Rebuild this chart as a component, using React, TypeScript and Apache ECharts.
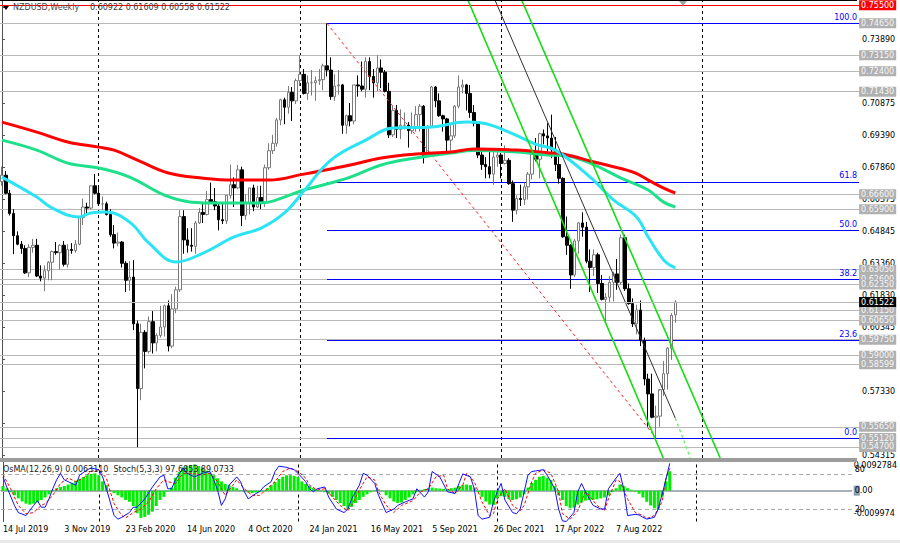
import React, { useEffect, useRef } from "react";
import * as echarts from "echarts";

const FONT = "DejaVu Sans";
const N_SLOTS = 222;
const X_MIN = -0.5;
const X_MAX = N_SLOTS - 0.5;
const PRICE_MIN = 0.5418;
const PRICE_MAX = 0.7575;
const OSMA_MIN = -0.009974;
const OSMA_MAX = 0.0092784;

const FIRST_WEEK_UTC = Date.UTC(2019, 6, 14);
const MONTHS = ["Jan", "Feb", "Mar", "Apr", "May", "Jun", "Jul", "Aug", "Sep", "Oct", "Nov", "Dec"];
const TICK_EVERY = 16;
const LAST_TICK = 160;
const YEAR_SEPARATORS = [25, 77, 129, 181];

const SYMBOL_TITLE = "NZDUSD,Weekly";
const LAST_OHLC = "0.60922 0.61609 0.60558 0.61522";
const IND_TITLE = "OsMA(12,26,9) 0.0063110  Stoch(5,3,3) 97.6853 89.0733";

// weekly candles [open, high, low, close]
const CANDLES_2019 = [
  [0.6720, 0.6790, 0.6700, 0.6750], [0.6750, 0.6770, 0.6660, 0.6665], [0.6665, 0.6680, 0.6560, 0.6570],
  [0.6570, 0.6590, 0.6378, 0.6465], [0.6465, 0.6485, 0.6420, 0.6425], [0.6425, 0.6440, 0.6380, 0.6405],
  [0.6405, 0.6420, 0.6285, 0.6290], [0.6290, 0.6425, 0.6270, 0.6410], [0.6410, 0.6450, 0.6385, 0.6420],
  [0.6420, 0.6450, 0.6270, 0.6275], [0.6275, 0.6325, 0.6250, 0.6265], [0.6265, 0.6325, 0.6204, 0.6300],
  [0.6300, 0.6345, 0.6255, 0.6340], [0.6340, 0.6395, 0.6255, 0.6390], [0.6390, 0.6435, 0.6375, 0.6385],
  [0.6385, 0.6425, 0.6305, 0.6420], [0.6420, 0.6440, 0.6320, 0.6330], [0.6330, 0.6425, 0.6315, 0.6400],
  [0.6400, 0.6430, 0.6380, 0.6395], [0.6395, 0.6445, 0.6385, 0.6425], [0.6425, 0.6555, 0.6420, 0.6550],
  [0.6550, 0.6640, 0.6515, 0.6600], [0.6600, 0.6620, 0.6560, 0.6595], [0.6595, 0.6700, 0.6590, 0.6700],
  [0.6700, 0.6756, 0.6660, 0.6665],
];
const CANDLES_2020 = [
  [0.6665, 0.6700, 0.6605, 0.6615], [0.6615, 0.6650, 0.6585, 0.6615], [0.6615, 0.6625, 0.6560, 0.6565],
  [0.6565, 0.6590, 0.6460, 0.6470], [0.6470, 0.6515, 0.6405, 0.6430], [0.6430, 0.6480, 0.6415, 0.6435],
  [0.6435, 0.6440, 0.6315, 0.6335], [0.6335, 0.6345, 0.6200, 0.6255], [0.6255, 0.6345, 0.6205, 0.6270],
  [0.6270, 0.6350, 0.6020, 0.6050], [0.6050, 0.6065, 0.5469, 0.5745], [0.5745, 0.6050, 0.5690, 0.6010],
  [0.6010, 0.6020, 0.5840, 0.5920], [0.5920, 0.6085, 0.5910, 0.6060], [0.6060, 0.6110, 0.5910, 0.5960],
  [0.5960, 0.6005, 0.5920, 0.5995], [0.5995, 0.6135, 0.5985, 0.6035], [0.6035, 0.6140, 0.5990, 0.6135],
  [0.6135, 0.6160, 0.5920, 0.5945], [0.5945, 0.6190, 0.5935, 0.6120], [0.6120, 0.6225, 0.6100, 0.6210],
  [0.6210, 0.6585, 0.6200, 0.6555], [0.6555, 0.6585, 0.6380, 0.6445], [0.6445, 0.6500, 0.6385, 0.6420],
  [0.6420, 0.6500, 0.6390, 0.6415], [0.6415, 0.6535, 0.6380, 0.6525], [0.6525, 0.6595, 0.6520, 0.6575],
  [0.6575, 0.6620, 0.6525, 0.6565], [0.6565, 0.6675, 0.6560, 0.6635], [0.6635, 0.6715, 0.6620, 0.6625],
  [0.6625, 0.6690, 0.6585, 0.6605], [0.6605, 0.6620, 0.6490, 0.6540], [0.6540, 0.6620, 0.6520, 0.6535],
  [0.6535, 0.6655, 0.6520, 0.6655], [0.6655, 0.6800, 0.6640, 0.6705], [0.6705, 0.6740, 0.6600, 0.6690],
  [0.6690, 0.6798, 0.6685, 0.6775], [0.6775, 0.6790, 0.6510, 0.6560], [0.6560, 0.6660, 0.6540, 0.6620],
  [0.6620, 0.6690, 0.6565, 0.6690], [0.6690, 0.6705, 0.6580, 0.6600], [0.6600, 0.6700, 0.6595, 0.6645],
  [0.6645, 0.6700, 0.6590, 0.6620], [0.6620, 0.6800, 0.6600, 0.6785], [0.6785, 0.6900, 0.6775, 0.6865],
  [0.6865, 0.6940, 0.6850, 0.6900], [0.6900, 0.7020, 0.6885, 0.7010], [0.7010, 0.7110, 0.6985, 0.7105],
  [0.7105, 0.7115, 0.6990, 0.7070], [0.7070, 0.7170, 0.7040, 0.7140], [0.7140, 0.7165, 0.7005, 0.7100],
  [0.7100, 0.7205, 0.7085, 0.7195],
];
const CANDLES_2021 = [
  [0.7195, 0.7315, 0.7170, 0.7225], [0.7225, 0.7250, 0.7130, 0.7135], [0.7135, 0.7220, 0.7105, 0.7185],
  [0.7185, 0.7245, 0.7125, 0.7185], [0.7185, 0.7215, 0.7100, 0.7195], [0.7195, 0.7250, 0.7175, 0.7200],
  [0.7200, 0.7275, 0.7150, 0.7265], [0.7265, 0.7465, 0.7215, 0.7245], [0.7245, 0.7305, 0.7105, 0.7120],
  [0.7120, 0.7225, 0.7100, 0.7170], [0.7170, 0.7245, 0.7130, 0.7175], [0.7175, 0.7180, 0.6945, 0.6985],
  [0.6985, 0.7035, 0.6945, 0.7030], [0.7030, 0.7090, 0.6980, 0.7005], [0.7005, 0.7175, 0.6990, 0.7175],
  [0.7175, 0.7220, 0.7120, 0.7170], [0.7170, 0.7285, 0.7145, 0.7155], [0.7155, 0.7305, 0.7115, 0.7285],
  [0.7285, 0.7305, 0.7150, 0.7215], [0.7215, 0.7250, 0.7115, 0.7185], [0.7185, 0.7315, 0.7145, 0.7255],
  [0.7255, 0.7295, 0.7160, 0.7235], [0.7235, 0.7245, 0.7140, 0.7145], [0.7145, 0.7185, 0.6925, 0.6940],
  [0.6940, 0.7080, 0.6930, 0.7055], [0.7055, 0.7080, 0.6925, 0.6965], [0.6965, 0.7060, 0.6920, 0.6985],
  [0.6985, 0.7045, 0.6965, 0.6985], [0.6985, 0.7000, 0.6880, 0.6960], [0.6960, 0.7045, 0.6945, 0.6970],
  [0.6970, 0.7075, 0.6955, 0.7035], [0.7035, 0.7085, 0.6955, 0.7075], [0.7075, 0.7080, 0.6805, 0.6840],
  [0.6840, 0.6985, 0.6835, 0.6980], [0.6980, 0.7170, 0.6975, 0.7165], [0.7165, 0.7170, 0.7070, 0.7100],
  [0.7100, 0.7135, 0.7025, 0.7030], [0.7030, 0.7035, 0.6955, 0.7015], [0.7015, 0.7020, 0.6860, 0.6915],
  [0.6915, 0.6985, 0.6865, 0.6935], [0.6935, 0.7080, 0.6925, 0.7075], [0.7075, 0.7220, 0.7065, 0.7165],
  [0.7165, 0.7200, 0.7135, 0.7175], [0.7175, 0.7180, 0.7055, 0.7135], [0.7135, 0.7175, 0.7020, 0.7045],
  [0.7045, 0.7080, 0.6980, 0.6995], [0.6995, 0.7000, 0.6830, 0.6845], [0.6845, 0.6870, 0.6775, 0.6800],
  [0.6800, 0.6835, 0.6735, 0.6790], [0.6790, 0.6860, 0.6735, 0.6755], [0.6755, 0.6860, 0.6705, 0.6835],
  [0.6835, 0.6860, 0.6790, 0.6845],
];
const CANDLES_2022 = [
  [0.6845, 0.6855, 0.6735, 0.6805], [0.6805, 0.6890, 0.6800, 0.6820], [0.6820, 0.6830, 0.6705, 0.6710],
  [0.6710, 0.6725, 0.6530, 0.6585], [0.6585, 0.6655, 0.6565, 0.6640], [0.6640, 0.6705, 0.6605, 0.6635],
  [0.6635, 0.6715, 0.6610, 0.6695], [0.6695, 0.6765, 0.6635, 0.6755], [0.6755, 0.6865, 0.6730, 0.6850],
  [0.6850, 0.6925, 0.6815, 0.6825], [0.6825, 0.6950, 0.6735, 0.6945], [0.6945, 0.6965, 0.6895, 0.6935],
  [0.6935, 0.6995, 0.6860, 0.6925], [0.6925, 0.7035, 0.6830, 0.6870], [0.6870, 0.6930, 0.6770, 0.6800],
  [0.6800, 0.6850, 0.6710, 0.6735], [0.6735, 0.6740, 0.6455, 0.6460], [0.6460, 0.6555, 0.6375, 0.6420],
  [0.6420, 0.6425, 0.6215, 0.6280], [0.6280, 0.6450, 0.6270, 0.6440], [0.6440, 0.6530, 0.6380, 0.6525],
  [0.6525, 0.6575, 0.6460, 0.6505], [0.6505, 0.6530, 0.6335, 0.6345], [0.6345, 0.6400, 0.6200, 0.6315],
  [0.6315, 0.6400, 0.6275, 0.6375], [0.6375, 0.6385, 0.6195, 0.6240], [0.6240, 0.6280, 0.6160, 0.6165],
  [0.6165, 0.6195, 0.6060, 0.6175], [0.6175, 0.6275, 0.6150, 0.6245], [0.6245, 0.6295, 0.6155, 0.6285],
  [0.6285, 0.6355, 0.6210, 0.6245], [0.6245, 0.6470, 0.6235, 0.6455], [0.6455, 0.6470, 0.6205, 0.6215],
  [0.6215, 0.6240, 0.6140, 0.6145], [0.6145, 0.6170, 0.6035, 0.6050], [0.6050, 0.6140, 0.6000, 0.6115],
  [0.6115, 0.6160, 0.5945, 0.5970], [0.5970, 0.5985, 0.5760, 0.5790], [0.5790, 0.5815, 0.5565, 0.5720],
  [0.5720, 0.5815, 0.5605, 0.5610], [0.5610, 0.5665, 0.5512, 0.5615], [0.5615, 0.5735, 0.5565, 0.5740],
  [0.5740, 0.5875, 0.5710, 0.5815], [0.5815, 0.5940, 0.5740, 0.5935], [0.5935, 0.6100, 0.5880, 0.6090],
  [0.60922, 0.61609, 0.60558, 0.61522],
];

// moving averages read at [bar index, price]
const MA_RED = [[0, 0.7000], [9, 0.6953], [17, 0.6906], [25, 0.6882], [29, 0.6868], [35, 0.6821], [43, 0.6760],
  [52, 0.6736], [60, 0.6727], [69, 0.6727], [78, 0.6755], [81, 0.6765], [90, 0.6798], [98, 0.6831], [107, 0.6850],
  [116, 0.6859], [122, 0.6873], [133, 0.6868], [141, 0.6856], [145, 0.6850], [153, 0.6812], [163, 0.6765],
  [167, 0.6727], [171, 0.6689], [174, 0.6666]];
const MA_GREEN = [[0, 0.6915], [9, 0.6868], [17, 0.6807], [25, 0.6784], [33, 0.6741], [42, 0.6656], [49, 0.6623],
  [56, 0.6619], [66, 0.6619], [69, 0.6623], [73, 0.6647], [78, 0.6680], [81, 0.6694], [90, 0.6741], [98, 0.6798],
  [107, 0.6831], [116, 0.6854], [122, 0.6866], [133, 0.6859], [141, 0.6845], [145, 0.6843], [152, 0.6807],
  [160, 0.6736], [167, 0.6680], [171, 0.6623], [174, 0.6600]];
const MA_CYAN = [[0, 0.6741], [9, 0.6647], [13, 0.6595], [20, 0.6553], [23, 0.6572], [27, 0.6576], [33, 0.6529],
  [38, 0.6430], [45, 0.6341], [52, 0.6383], [60, 0.6459], [67, 0.6501], [73, 0.6572], [78, 0.6675], [85, 0.6821],
  [94, 0.6915], [101, 0.6972], [111, 0.6977], [120, 0.7000], [124, 0.6996], [131, 0.6953], [138, 0.6895],
  [143, 0.6868], [152, 0.6741], [158, 0.6634], [164, 0.6553], [167, 0.6459], [171, 0.6351], [174, 0.6313]];

// drawn objects
const GRAY_LEVELS = [0.7465, 0.7315, 0.7240, 0.7143, 0.6660, 0.6590, 0.6305, 0.6260, 0.6235, 0.6115, 0.6065,
  0.5975, 0.5900, 0.58599, 0.5565, 0.5512, 0.5470];
const RED_LEVEL = 0.7550;
const BID = 0.61522;
const FIB_START = 84;
const FIB_LEVELS = [0.7465, 0.6719, 0.6489, 0.6258, 0.5973, 0.5512];
const FIB_NAMES = ["100.0", "61.8", "50.0", "38.2", "23.6", "0.0"];
const FIB_DIAG = [[84, 0.7465], [169, 0.5512]];
const CHANNEL_A = [[120.4, PRICE_MAX], [170.9, PRICE_MIN]];
const CHANNEL_B = [[134.3, PRICE_MAX], [185.6, PRICE_MIN]];
const CHANNEL_MID = [[127.4, PRICE_MAX], [174.0, 0.5606]];
const CHANNEL_MID_EXT = [[174.0, 0.5606], [177.9, PRICE_MIN]];

const PRICE_TICKS = [0.7542, 0.7389, 0.72405, 0.70875, 0.6939, 0.6786, 0.66375, 0.64845, 0.6336, 0.6183,
  0.60345, 0.58815, 0.5733, 0.558, 0.54315];
// tick labels that are not covered by the object labels
const PRICE_TICK_LABELS = [0.7389, 0.70875, 0.6939, 0.6786, 0.66375, 0.64845, 0.6336, 0.6183, 0.60345, 0.5733, 0.54315];

// OsMA histogram in units of 0.0001
const OSMA = [
  15, 8, -5, -15, -25, -35, -42, -45, -42, -38,
  -30, -22, -12, 3, 8, 12, 15, 20, 25, 32,
  38, 44, 50, 54, 56, 50, 30, 18, 2, -8,
  -15, -22, -30, -36, -50, -73, -88, -85, -78, -68,
  -50, -30, -20, -3, 10, 42, 60, 75, 80, 82,
  85, 80, 75, 65, 58, 50, 40, 30, 22, 18,
  12, 8, 2, -3, -6, -8, -6, -4, -2, 8,
  18, 28, 38, 45, 50, 50, 48, 45, 30, 22,
  15, 8, 3, -2, -5, -10, -20, -30, -40, -50,
  -58, -52, -40, -30, -20, -12, -5, 2, 4, -2,
  -15, -25, -35, -40, -38, -30, -22, -12, -5, 3,
  5, 8, 10, 8, 7, 6, 5, 8, 10, 15,
  18, 20, 18, 10, -5, -20, -35, -45, -46, -25,
  -18, -20, -28, -30, -28, -22, -12, 10, 25, 35,
  45, 48, 42, 35, 15, -15, -30, -50, -57, -55,
  -45, -38, -32, -30, -30, -28, -25, -22, -15, -5,
  8, 20, 15, 8, 3, -3, -10, -22, -36, -48,
  -57, -62, -20, 30, 63,
];

const STOCH_MAIN = [[0, 75], [1, 58], [3, 27], [4, 15], [6, 10], [8, 27], [9, 35], [10, 24], [11, 24], [12, 38],
  [13, 55], [14, 70], [15, 81], [16, 70], [17, 67], [19, 61], [20, 78], [22, 87], [23, 90], [25, 87], [26, 75],
  [27, 55], [29, 10], [30, 4], [31, 7], [33, 15], [34, 24], [35, 24], [37, 38], [39, 58], [41, 75], [42, 78],
  [43, 55], [44, 55], [45, 70], [47, 90], [48, 81], [50, 75], [51, 78], [52, 81], [54, 84], [55, 70], [56, 53],
  [57, 27], [58, 38], [59, 61], [61, 75], [62, 67], [63, 50], [64, 38], [66, 47], [67, 50], [68, 58], [70, 67],
  [71, 84], [72, 93], [74, 91], [76, 87], [77, 81], [79, 67], [80, 55], [81, 50], [82, 55], [84, 58], [85, 41],
  [87, 21], [89, 15], [90, 21], [91, 38], [93, 61], [94, 81], [95, 78], [97, 64], [98, 44], [100, 15], [102, 21],
  [103, 27], [105, 33], [107, 38], [108, 55], [110, 41], [111, 50], [112, 84], [114, 75], [116, 50], [118, 47],
  [119, 64], [120, 80], [122, 75], [123, 55], [124, 10], [125, 4], [127, 7], [128, 33], [129, 50], [130, 64],
  [131, 36], [133, 15], [134, 13], [135, 21], [137, 78], [138, 84], [139, 85], [141, 87], [142, 78], [144, 55],
  [145, 21], [146, 1], [147, 0], [149, 15], [150, 50], [151, 64], [152, 50], [154, 27], [156, 21], [157, 21],
  [158, 55], [160, 73], [161, 81], [162, 55], [163, 10], [165, 12], [166, 11], [167, 7], [168, 4], [170, 7],
  [171, 21], [173, 70], [174, 97.69]];
const STOCH_SIGNAL = [[0, 79], [2, 55], [4, 27], [6, 13], [8, 15], [10, 27], [11, 30], [13, 44], [15, 64], [17, 73],
  [19, 67], [21, 73], [23, 84], [25, 87], [27, 73], [28, 50], [29, 30], [31, 10], [32, 6], [34, 15], [36, 21],
  [38, 33], [40, 55], [42, 70], [43, 67], [45, 64], [47, 81], [49, 81], [52, 78], [54, 81], [56, 67], [58, 44],
  [60, 61], [61, 70], [63, 55], [65, 44], [67, 44], [69, 55], [71, 67], [73, 84], [75, 90], [77, 84], [79, 73],
  [80, 61], [82, 53], [84, 55], [86, 41], [88, 27], [90, 18], [91, 27], [93, 53], [95, 75], [97, 70], [98, 50],
  [100, 27], [102, 15], [104, 27], [107, 35], [109, 50], [111, 55], [113, 75], [115, 78], [116, 55], [118, 47],
  [120, 61], [121, 81], [123, 67], [125, 33], [127, 10], [128, 13], [129, 38], [131, 55], [133, 27], [135, 18],
  [136, 27], [138, 67], [139, 81], [141, 87], [143, 81], [145, 50], [146, 13], [148, 4], [150, 18], [152, 50],
  [153, 44], [155, 27], [157, 18], [158, 38], [160, 70], [161, 67], [163, 38], [165, 15], [167, 10], [168, 5],
  [170, 10], [172, 33], [173, 73], [174, 89.07]];
const STOCH_LEVELS = [80, 20];

const CANDLES = [...CANDLES_2019, ...CANDLES_2020, ...CANDLES_2021, ...CANDLES_2022];
const WEEKS = Array.from({ length: N_SLOTS }, (_, i) => {
  const d = new Date(FIRST_WEEK_UTC + i * 7 * 86400000);
  return `${d.getUTCDate()} ${MONTHS[d.getUTCMonth()]} ${d.getUTCFullYear()}`;
});

const txt = { fontFamily: FONT, fontSize: 8, color: "#000" };
const noSym = { symbol: ["none", "none"], silent: true, animation: false, precision: 5 };
const fmt5 = (p: any) => Number(p.value).toFixed(5);

function buildOption(): any {
  const GL = { left: -1.9, width: 861 };
  const lineSeries = (data: number[][], color: string, width: number, extra: any = {}) => ({
    type: "line", xAxisIndex: 1, yAxisIndex: 0, data, showSymbol: false, silent: true,
    lineStyle: { color, width, ...(extra.lineStyle || {}) }, z: extra.z ?? 4, smooth: extra.smooth ?? false,
  });
  const boxLabel = (bg: string, fg: string) => ({
    show: true, position: "end", distance: 0, formatter: fmt5,
    ...txt, color: fg, backgroundColor: bg, padding: [1, 2, 0, 2], lineHeight: 9,
  });
  return {
    animation: false,
    backgroundColor: "#ffffff",
    grid: [
      { ...GL, top: 0, height: 458 },
      { ...GL, top: 462, height: 59.5 },
    ],
    xAxis: [
      { gridIndex: 0, type: "category", data: WEEKS, boundaryGap: true, show: false },
      { gridIndex: 0, type: "value", min: X_MIN, max: X_MAX, show: false },
      {
        gridIndex: 1, type: "category", data: WEEKS, boundaryGap: true,
        axisLine: { show: true, lineStyle: { color: "#505050", width: 1 } },
        axisTick: { show: false }, splitLine: { show: false },
        axisLabel: { ...txt, align: "left", margin: 4, interval: (i: number) => i % TICK_EVERY === 0 && i <= LAST_TICK },
      },
      { gridIndex: 1, type: "value", min: X_MIN, max: X_MAX, show: false },
    ],
    yAxis: [
      {
        gridIndex: 0, type: "value", position: "right", offset: -2, min: PRICE_MIN, max: PRICE_MAX,
        splitLine: { show: false },
        axisLine: { show: true, lineStyle: { color: "#505050", width: 1 } },
        axisTick: { show: true, length: 3, customValues: PRICE_TICKS, lineStyle: { color: "#505050" } },
        axisLabel: { ...txt, margin: 5, customValues: PRICE_TICK_LABELS, formatter: (v: number) => v.toFixed(5) },
      },
      {
        gridIndex: 1, type: "value", position: "right", offset: -2, min: OSMA_MIN, max: OSMA_MAX,
        splitLine: { show: false },
        axisLine: { show: true, lineStyle: { color: "#505050", width: 1 } },
        axisTick: { show: false },
        axisLabel: {
          ...txt, margin: 4, customValues: [OSMA_MAX, 0, OSMA_MIN],
          formatter: (v: number) => (v > 0.005 ? "{t|0.0092784}" : v < -0.005 ? "{b|-0.009974}" : "{z|0}{n|.00}"),
          rich: {
            t: { ...txt, padding: [6, 0, 0, 0] },
            b: { ...txt, padding: [0, 0, 16, 0] },
            z: { ...txt, backgroundColor: "#8b9db3", padding: [1, 0, 1, 1] },
            n: { ...txt },
          },
        },
      },
      {
        gridIndex: 1, type: "value", position: "right", offset: -2, min: 0, max: 100,
        splitLine: { show: false }, axisLine: { show: false }, axisTick: { show: false },
        axisLabel: {
          ...txt, margin: 5, customValues: STOCH_LEVELS,
          formatter: (v: number) => (v > 50 ? "{u|" + v + "}" : "{d|" + v + "}"),
          rich: { u: { ...txt, padding: [0, 0, 8, 0] }, d: { ...txt } },
        },
      },
    ],
    series: [
      {
        type: "line", xAxisIndex: 1, yAxisIndex: 0, data: [], z: 1,
        markLine: { ...noSym, z: 1, label: { show: false }, lineStyle: { color: "#000", type: [3, 3], width: 1 },
          data: YEAR_SEPARATORS.map((x) => ({ xAxis: x })) },
      },
      {
        type: "line", xAxisIndex: 1, yAxisIndex: 0, data: [], z: 2,
        markLine: {
          ...noSym, z: 2,
          lineStyle: { color: "#b8b8b8", width: 1, type: "solid" },
          label: boxLabel("#b0b0b0", "#f6f6f6"),
          data: GRAY_LEVELS.map((v) => ({ yAxis: v })),
        },
      },
      {
        type: "line", xAxisIndex: 1, yAxisIndex: 0, data: [], z: 3,
        markLine: {
          ...noSym, z: 3,
          lineStyle: { color: "#0000ff", width: 1, type: "solid" },
          label: { show: true, position: "insideEndTop", distance: 2, formatter: "{b}", ...txt, color: "#0000ff" },
          data: FIB_LEVELS.map((v, i) => [{ coord: [FIB_START, v], name: FIB_NAMES[i] }, { coord: [X_MAX, v] }]),
        },
      },
      {
        type: "line", xAxisIndex: 1, yAxisIndex: 0, data: [], z: 3,
        markLine: {
          ...noSym, z: 3,
          lineStyle: { color: "#ff0000", width: 1, type: "solid" },
          label: boxLabel("#ff0000", "#ffffff"),
          data: [{ yAxis: RED_LEVEL }],
        },
      },
      {
        type: "candlestick", xAxisIndex: 0, yAxisIndex: 0, silent: true, z: 3, barWidth: 3,
        data: CANDLES.map(([o, h, l, c]) => [o, c, l, h]),
        itemStyle: { color: "#ffffff", color0: "#000000", borderColor: "#7a7a7a", borderColor0: "#000000", borderWidth: 1 },
      },
      lineSeries(FIB_DIAG, "#ff2020", 1, { lineStyle: { type: [3, 3] }, z: 4 }),
      lineSeries(MA_GREEN, "#1fe08a", 3, { smooth: 0.4, z: 5 }),
      lineSeries(MA_RED, "#ff0000", 3, { smooth: 0.4, z: 5 }),
      lineSeries(MA_CYAN, "#2ae4f4", 3, { smooth: 0.4, z: 5 }),
      lineSeries(CHANNEL_A, "#11dd11", 1.6, { z: 6 }),
      lineSeries(CHANNEL_B, "#11dd11", 1.6, { z: 6 }),
      lineSeries(CHANNEL_MID, "#303030", 1, { z: 6 }),
      lineSeries(CHANNEL_MID_EXT, "#66ee66", 1.3, { lineStyle: { type: [3, 3] }, z: 6 }),
      {
        type: "line", xAxisIndex: 1, yAxisIndex: 0, data: [], z: 7,
        markLine: {
          ...noSym, z: 7,
          lineStyle: { color: "#b8b8b8", width: 1, type: "solid" },
          label: boxLabel("#000000", "#ffffff"),
          data: [{ yAxis: BID }],
        },
      },
      {
        type: "line", xAxisIndex: 3, yAxisIndex: 2, data: [], z: 1,
        markLine: { ...noSym, z: 1, label: { show: false }, lineStyle: { color: "#000", type: [3, 3], width: 1 },
          data: YEAR_SEPARATORS.map((x) => ({ xAxis: x })) },
      },
      {
        type: "line", xAxisIndex: 3, yAxisIndex: 2, data: [], z: 1,
        markLine: { ...noSym, z: 1, label: { show: false }, lineStyle: { color: "#a8a8a8", type: [4, 3], width: 1 },
          data: STOCH_LEVELS.map((v) => ({ yAxis: v })) },
      },
      {
        type: "line", xAxisIndex: 3, yAxisIndex: 1, data: [], z: 1,
        markLine: { ...noSym, z: 1, label: { show: false }, lineStyle: { color: "#a9b0b8", type: "solid", width: 2 },
          data: [{ yAxis: 0 }] },
      },
      {
        type: "bar", xAxisIndex: 2, yAxisIndex: 1, silent: true, z: 2, barWidth: 3,
        data: OSMA.map((v) => v * 0.0001), itemStyle: { color: "#00ee00" },
      },
      {
        type: "line", xAxisIndex: 3, yAxisIndex: 2, data: STOCH_SIGNAL, showSymbol: false, silent: true, z: 3,
        lineStyle: { color: "#ff0000", width: 1, type: [3, 2] },
      },
      {
        type: "line", xAxisIndex: 3, yAxisIndex: 2, data: STOCH_MAIN, showSymbol: false, silent: true, z: 4,
        lineStyle: { color: "#1010ff", width: 1 },
      },
    ],
    graphic: [
      { type: "rect", shape: { x: 0, y: 0, width: 857, height: 1 }, style: { fill: "#000" }, z: 100, silent: true },
      { type: "rect", shape: { x: 0, y: 458, width: 857, height: 4 }, style: { fill: "#9c9c9c" }, z: 100, silent: true },
      { type: "rect", shape: { x: 0, y: 540, width: 900, height: 3 }, style: { fill: "#e8e8e8" }, z: 100, silent: true },
      { type: "polygon", shape: { points: [[3, 6], [9, 6], [6, 10]] }, style: { fill: "#000" }, z: 100, silent: true },
      { type: "polygon", shape: { points: [[679, 1], [687, 1], [683, 6]] }, style: { fill: "#a0a0a0" }, z: 100, silent: true },
      { type: "text", x: 13, y: 3, style: { text: SYMBOL_TITLE, fill: "#4a4a4a", font: `8px "${FONT}"` }, z: 100, silent: true },
      { type: "text", x: 90, y: 3, style: { text: LAST_OHLC, fill: "#3a3a3a", font: `8px "${FONT}"` }, z: 100, silent: true },
      { type: "text", x: 3, y: 465, style: { text: IND_TITLE, fill: "#202020", font: `8px "${FONT}"` }, z: 100, silent: true },
    ],
  };
}

export default function App() {
  const ref = useRef<HTMLDivElement>(null);
  useEffect(() => {
    if (!ref.current) return;
    const chart = echarts.init(ref.current, null, { renderer: "svg" });
    chart.setOption(buildOption());
    return () => chart.dispose();
  }, []);
  return (
    <div
      ref={ref}
      style={{ position: "fixed", left: 0, top: 0, width: 900, height: 543, background: "#fff" }}
    />
  );
}
